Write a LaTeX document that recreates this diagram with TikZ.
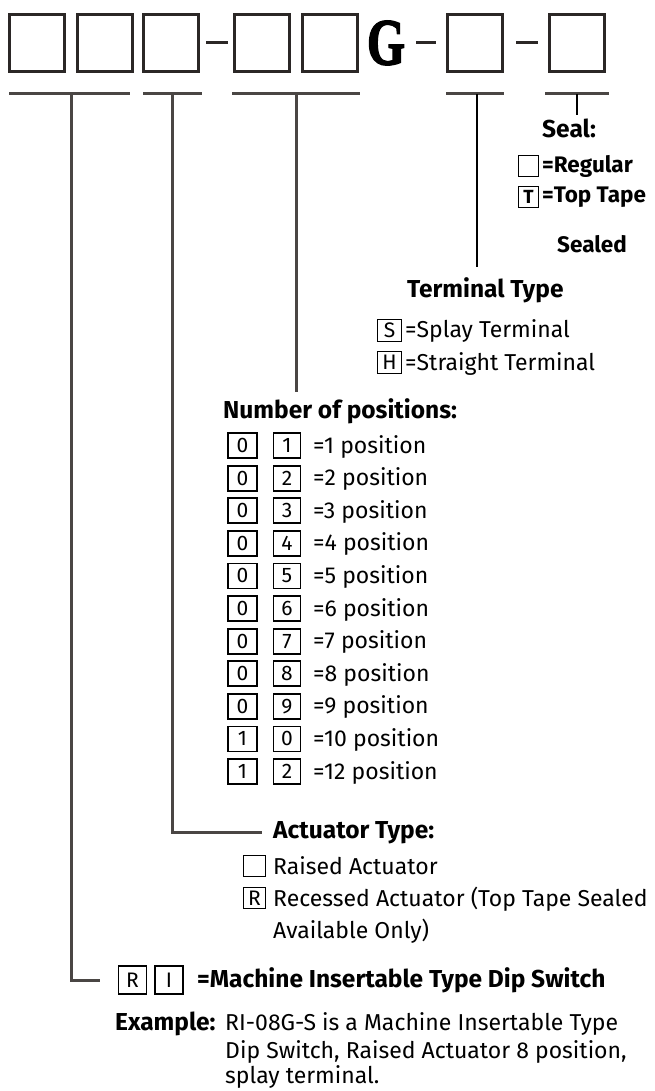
\documentclass[tikz,border=0pt]{standalone}
\usepackage{fontspec}
\setmainfont{Fira Sans}
\newfontfamily\gfont[FakeBold=2.5]{Liberation Serif}
\usetikzlibrary{positioning}

\definecolor{leadgray}{HTML}{4A4644}
\definecolor{boxdark}{HTML}{2B2726}

\tikzset{
  codebox/.style={draw=boxdark, line width=3pt, minimum width=55pt, minimum height=57pt, inner sep=0pt},
  keybox/.style={draw=black, line width=1.8pt, minimum width=27pt, minimum height=25pt, inner sep=0pt, font=\fontsize{21}{21}\selectfont},
  smallkey/.style={keybox, minimum width=20pt, minimum height=21pt, font=\fontsize{19}{19}\selectfont\bfseries},
  leader/.style={draw=leadgray, line width=3pt},
  thinlead/.style={draw=black, line width=1.8pt},
  dashbar/.style={draw=boxdark, line width=3pt},
  head/.style={anchor=base west, inner sep=0pt, font=\fontsize{24.5}{24.5}\selectfont\bfseries},
  lbl/.style={anchor=base west, inner sep=0pt, font=\fontsize{23}{23}\selectfont},
  boldlbl/.style={lbl, font=\fontsize{22.5}{22.5}\selectfont\bfseries},
}

\begin{document}
\begin{tikzpicture}[x=1pt,y=-1pt]
  \useasboundingbox (0,0) rectangle (654,1091);

  % part number boxes
  \foreach \n/\x in {b1/37,b2/105,b3/171,b4/262,b5/330,b6/475,b7/577}
    \node[codebox] (\n) at (\x,43) {};
  \node[font=\gfont\bfseries\fontsize{66}{66}\selectfont, xscale=0.74, inner sep=0pt] (g) at (386,43) {G};
  \draw[dashbar] ([xshift=6pt]b3.east) -- ([xshift=-5pt]b4.west);
  \draw[dashbar] ([xshift=-30pt]b6.west) -- ([xshift=-10pt]b6.west);
  \draw[dashbar] ([xshift=-32pt]b7.west) -- ([xshift=-10pt]b7.west);

  % underlines
  \draw[leader] (9,94) -- (130,94);
  \draw[leader] (143,94) -- (202,94);
  \draw[leader] (232,94) -- (360,94);
  \draw[leader] (446,94) -- (504,94);
  \draw[leader] (545,94) -- (609,94);
  \coordinate (t1) at (71,94);
  \coordinate (t2) at (172,94);
  \coordinate (t3) at (296,94);
  \coordinate (t4) at (477,94);
  \coordinate (t5) at (577,94);

  % seal
  \node[head] (seal) at (542,138) {Seal:};
  \node[smallkey] (sreg) at (528.5,166) {};
  \node[boldlbl] (sregt) at (542,173) {=Regular};
  \node[smallkey] (stop) at (528.5,197) {T};
  \node[boldlbl] (stopt) at (542,203) {=Top Tape};
  \node[boldlbl] (ssealed) at (557,252) {Sealed};

  % terminal type
  \node[head] (term) at (407,297) {Terminal Type};
  \node[keybox, minimum width=24pt, minimum height=22pt] (ts) at (389.5,330.5) {S};
  \node[lbl] (tst) at (405,337) {=Splay Terminal};
  \node[keybox, minimum width=24pt, minimum height=22pt] (th) at (389.5,362.5) {H};
  \node[lbl] (tht) at (405,370) {=Straight Terminal};

  % number of positions
  \node[head] (num) at (223,418) {Number of positions:};
  \foreach \a/\b/\n [count=\i from 0] in {0/1/1,0/2/2,0/3/3,0/4/4,0/5/5,0/6/6,0/7/7,0/8/8,0/9/9,1/0/10,1/2/12} {
    \node[keybox, minimum width=29pt] (na\i) at (242.5,445.5+32.6*\i) {\a};
    \node[keybox] (nb\i) at (287,445.5+32.6*\i) {\b};
    \node[lbl] (nt\i) at (313,453+32.6*\i) {=\n\ position};
  }

  % actuator type
  \node[head] (act) at (273,838) {Actuator Type:};
  \node[keybox, minimum width=22pt, minimum height=21pt] (araised) at (254.5,866) {};
  \node[lbl] (araisedt) at (273,874) {Raised Actuator};
  \node[keybox, minimum width=22pt, minimum height=21pt] (arec) at (254.5,898) {R};
  \node[lbl] (arect) at (273,906) {Recessed Actuator (Top Tape Sealed};
  \node[lbl] (arect2) at (273,938) {Available Only)};

  % series
  \node[keybox, minimum width=28pt, minimum height=28pt] (ri1) at (132.5,980) {R};
  \node[keybox, minimum width=28pt, minimum height=28pt] (ri2) at (169,980) {I};
  \node[head] (mach) at (197,987) {=Machine Insertable Type Dip Switch};

  % example
  \node[head] (ex) at (115,1030) {Example:};
  \node[lbl] (ex1) at (225,1030) {RI-08G-S is a Machine Insertable Type};
  \node[lbl] (ex2) at (225,1058) {Dip Switch, Raised Actuator 8 position,};
  \node[lbl] (ex3) at (225,1083) {splay terminal.};

  % leaders
  \draw[leader] (t1) |- ([xshift=-18pt]ri1.west);
  \draw[leader] (t2) |- ([xshift=-11pt,yshift=6pt]act.base west);
  \draw[leader, shorten >=6pt] (t3) -- (t3 |- num.north);
  \draw[thinlead, shorten >=10pt] (t4) -- (t4 |- term.north);
  \draw[thinlead, shorten >=4pt] (t5) -- (t5 |- seal.north);
\end{tikzpicture}
\end{document}
